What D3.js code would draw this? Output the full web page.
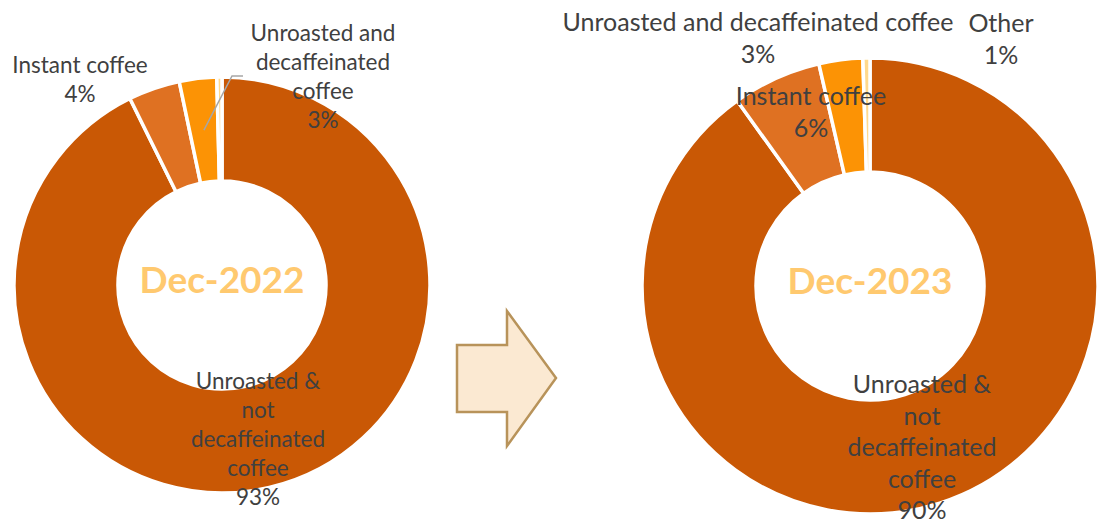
<!DOCTYPE html>
<html>
<head>
<meta charset="utf-8">
<script src="https://cdn.jsdelivr.net/npm/d3@7"></script>
<style>
  body { margin: 0; background: #fff; }
  svg { display: block; }
</style>
</head>
<body>
<svg width="1097" height="525"></svg>
<script>
// data
var categories = ["Unroasted & not decaffeinated coffee", "Instant coffee", "Unroasted and decaffeinated coffee", "Other"];
var periods = ["Dec-2022", "Dec-2023"];
var values2022 = [92.7, 4.0, 2.9, 0.4];
var values2023 = [90.1, 6.3, 3.1, 0.5];

var svg = d3.select("svg"),
  width = +svg.attr("width"),
  height = +svg.attr("height");

var color = d3.scaleOrdinal()
  .domain(categories)
  .range(["#C95805", "#DF7122", "#FC9305", "#FFD98C"]);

// layout of the two donuts and their labels (words = words per line)
var charts = [
  { values: values2022, title: periods[0], cx: 222, cy: 285, r: 208, fs: 22.5, lh: 29,
    labels: [
      { x: 258, y: 389, words: [2, 1, 1, 1] },
      { x: 80, y: 73, words: [2] },
      { x: 323, y: 41, words: [2, 1, 1], leader: [[243, 76], [232, 76]] },
      null
    ] },
  { values: values2023, title: periods[1], cx: 870, cy: 286, r: 228, fs: 25, lh: 31.5,
    labels: [
      { x: 922, y: 393, words: [2, 1, 1, 1] },
      { x: 811, y: 105, words: [2] },
      { x: 758, y: 31, words: [4] },
      { x: 1001, y: 32, words: [1] }
    ] }
];

var pie = d3.pie().sort(null).value(function (d) { return d.value; });

charts.forEach(function (c) {
  var data = c.values.map(function (v, i) { return { name: categories[i], value: v }; });
  var arcs = pie(data);
  var arc = d3.arc().innerRadius(c.r * 0.5).outerRadius(c.r);

  var g = svg.append("g")
    .attr("transform", "translate(" + c.cx + "," + c.cy + ")");

  g.selectAll("path")
    .data(arcs)
    .enter().append("path")
    .attr("d", arc)
    .attr("fill", function (d) { return color(d.data.name); })
    .attr("stroke", "#fff")
    .attr("stroke-width", 3.5);

  g.append("text")
    .attr("text-anchor", "middle")
    .attr("y", 8)
    .attr("font-family", "Lato")
    .attr("font-weight", "bold")
    .attr("font-size", 37)
    .attr("fill", "#FFC96F")
    .text(c.title);

  // leader lines
  arcs.forEach(function (d, i) {
    var lab = c.labels[i];
    if (!lab || !lab.leader) return;
    var p = arc.centroid(d);
    var pts = lab.leader.concat([[p[0] + c.cx, p[1] + c.cy]]);
    svg.append("path")
      .attr("d", d3.line()(pts))
      .attr("fill", "none")
      .attr("stroke", "#A6A6A6")
      .attr("stroke-width", 1.5);
  });

  // data labels
  arcs.forEach(function (d, i) {
    var lab = c.labels[i];
    if (!lab) return;
    var words = d.data.name.split(" ");
    var lines = [], k = 0;
    lab.words.forEach(function (n) {
      lines.push(words.slice(k, k + n).join(" "));
      k += n;
    });
    lines.push(Math.round(d.data.value) + "%");

    var t = svg.append("text")
      .attr("text-anchor", "middle")
      .attr("font-family", "Lato")
      .attr("font-size", c.fs)
      .attr("fill", "#404040");
    lines.forEach(function (s, j) {
      t.append("tspan")
        .attr("x", lab.x)
        .attr("y", lab.y + j * c.lh)
        .text(s);
    });
  });
});

// arrow between the two donuts
var arrow = [[457, 345], [507, 345], [507, 311], [556, 378], [507, 446], [507, 412], [457, 412]];
svg.append("path")
  .attr("d", d3.line()(arrow) + "Z")
  .attr("fill", "#FBE9D2")
  .attr("stroke", "#B8935A")
  .attr("stroke-width", 2.5);
</script>
</body>
</html>
